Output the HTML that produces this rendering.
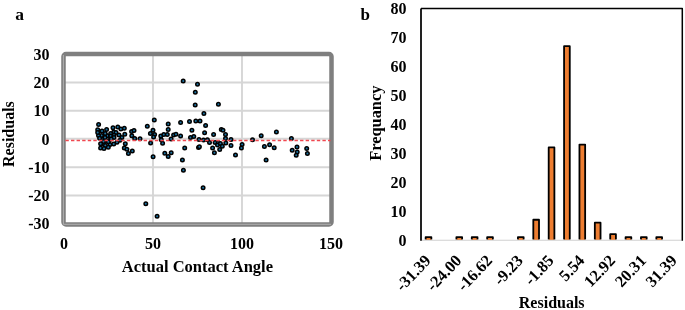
<!DOCTYPE html><html><head><meta charset="utf-8"><style>html,body{margin:0;padding:0;background:#fff;width:685px;height:310px;overflow:hidden}svg{display:block;filter:blur(0.4px)}text{font-family:"Liberation Serif",serif;font-weight:bold;fill:#000}</style></head><body>
<svg width="685" height="310" viewBox="0 0 685 310">
<text x="15.2" y="20.4" font-size="17.5">a</text>
<line x1="153" y1="55" x2="153" y2="223" stroke="#d6d6d6" stroke-width="1.9"/>
<line x1="242" y1="55" x2="242" y2="223" stroke="#d6d6d6" stroke-width="1.9"/>
<line x1="65" y1="82.5" x2="330" y2="82.5" stroke="#d6d6d6" stroke-width="1.9"/>
<line x1="65" y1="110.75" x2="330" y2="110.75" stroke="#d6d6d6" stroke-width="1.9"/>
<line x1="65" y1="138.8" x2="330" y2="138.8" stroke="#d6d6d6" stroke-width="1.9"/>
<line x1="65" y1="167.25" x2="330" y2="167.25" stroke="#d6d6d6" stroke-width="1.9"/>
<line x1="65" y1="195.5" x2="330" y2="195.5" stroke="#d6d6d6" stroke-width="1.9"/>
<rect x="63.5" y="54" width="268" height="170.5" rx="2.5" fill="none" stroke="#7f7f7f" stroke-width="4.5"/>
<line x1="63.4" y1="55" x2="63.4" y2="224.3" stroke="#b0b0b0" stroke-width="1"/>
<line x1="63.4" y1="224.3" x2="331" y2="224.3" stroke="#b0b0b0" stroke-width="1"/>
<circle cx="101.5" cy="135.5" r="1.75" fill="#1a73a2" stroke="#000" stroke-width="1.5"/>
<circle cx="107.3" cy="135.8" r="1.75" fill="#1a73a2" stroke="#000" stroke-width="1.5"/>
<circle cx="102.5" cy="139.5" r="1.75" fill="#1a73a2" stroke="#000" stroke-width="1.5"/>
<circle cx="98.5" cy="135.5" r="1.75" fill="#1a73a2" stroke="#000" stroke-width="1.5"/>
<circle cx="109" cy="140.5" r="1.75" fill="#1a73a2" stroke="#000" stroke-width="1.5"/>
<circle cx="104" cy="144" r="1.75" fill="#1a73a2" stroke="#000" stroke-width="1.5"/>
<circle cx="110" cy="144.5" r="1.75" fill="#1a73a2" stroke="#000" stroke-width="1.5"/>
<circle cx="98.6" cy="124.6" r="1.75" fill="#1a73a2" stroke="#000" stroke-width="1.5"/>
<circle cx="97.7" cy="129.7" r="1.75" fill="#1a73a2" stroke="#000" stroke-width="1.5"/>
<circle cx="97.7" cy="132.4" r="1.75" fill="#1a73a2" stroke="#000" stroke-width="1.5"/>
<circle cx="102" cy="131.1" r="1.75" fill="#1a73a2" stroke="#000" stroke-width="1.5"/>
<circle cx="106.6" cy="129.5" r="1.75" fill="#1a73a2" stroke="#000" stroke-width="1.5"/>
<circle cx="113" cy="127.7" r="1.75" fill="#1a73a2" stroke="#000" stroke-width="1.5"/>
<circle cx="117.8" cy="127" r="1.75" fill="#1a73a2" stroke="#000" stroke-width="1.5"/>
<circle cx="120.9" cy="128.9" r="1.75" fill="#1a73a2" stroke="#000" stroke-width="1.5"/>
<circle cx="124.3" cy="128.2" r="1.75" fill="#1a73a2" stroke="#000" stroke-width="1.5"/>
<circle cx="105.2" cy="133.6" r="1.75" fill="#1a73a2" stroke="#000" stroke-width="1.5"/>
<circle cx="113.7" cy="132.1" r="1.75" fill="#1a73a2" stroke="#000" stroke-width="1.5"/>
<circle cx="110.7" cy="133.6" r="1.75" fill="#1a73a2" stroke="#000" stroke-width="1.5"/>
<circle cx="116" cy="132.6" r="1.75" fill="#1a73a2" stroke="#000" stroke-width="1.5"/>
<circle cx="124.8" cy="134.3" r="1.75" fill="#1a73a2" stroke="#000" stroke-width="1.5"/>
<circle cx="99.6" cy="138.2" r="1.75" fill="#1a73a2" stroke="#000" stroke-width="1.5"/>
<circle cx="105" cy="137.4" r="1.75" fill="#1a73a2" stroke="#000" stroke-width="1.5"/>
<circle cx="110.7" cy="136" r="1.75" fill="#1a73a2" stroke="#000" stroke-width="1.5"/>
<circle cx="114" cy="135.3" r="1.75" fill="#1a73a2" stroke="#000" stroke-width="1.5"/>
<circle cx="114" cy="137.6" r="1.75" fill="#1a73a2" stroke="#000" stroke-width="1.5"/>
<circle cx="119" cy="135" r="1.75" fill="#1a73a2" stroke="#000" stroke-width="1.5"/>
<circle cx="121.9" cy="137.6" r="1.75" fill="#1a73a2" stroke="#000" stroke-width="1.5"/>
<circle cx="111.2" cy="138.9" r="1.75" fill="#1a73a2" stroke="#000" stroke-width="1.5"/>
<circle cx="103.5" cy="141.5" r="1.75" fill="#1a73a2" stroke="#000" stroke-width="1.5"/>
<circle cx="108.3" cy="141.8" r="1.75" fill="#1a73a2" stroke="#000" stroke-width="1.5"/>
<circle cx="117" cy="142.3" r="1.75" fill="#1a73a2" stroke="#000" stroke-width="1.5"/>
<circle cx="120" cy="140.3" r="1.75" fill="#1a73a2" stroke="#000" stroke-width="1.5"/>
<circle cx="100.6" cy="143.7" r="1.75" fill="#1a73a2" stroke="#000" stroke-width="1.5"/>
<circle cx="105.4" cy="145.4" r="1.75" fill="#1a73a2" stroke="#000" stroke-width="1.5"/>
<circle cx="113.7" cy="144" r="1.75" fill="#1a73a2" stroke="#000" stroke-width="1.5"/>
<circle cx="100.6" cy="148" r="1.75" fill="#1a73a2" stroke="#000" stroke-width="1.5"/>
<circle cx="104" cy="148.6" r="1.75" fill="#1a73a2" stroke="#000" stroke-width="1.5"/>
<circle cx="108.3" cy="147.3" r="1.75" fill="#1a73a2" stroke="#000" stroke-width="1.5"/>
<circle cx="125.3" cy="143.7" r="1.75" fill="#1a73a2" stroke="#000" stroke-width="1.5"/>
<circle cx="124.3" cy="148" r="1.75" fill="#1a73a2" stroke="#000" stroke-width="1.5"/>
<circle cx="131.6" cy="131.4" r="1.75" fill="#1a73a2" stroke="#000" stroke-width="1.5"/>
<circle cx="134" cy="130.5" r="1.75" fill="#1a73a2" stroke="#000" stroke-width="1.5"/>
<circle cx="131.8" cy="135.7" r="1.75" fill="#1a73a2" stroke="#000" stroke-width="1.5"/>
<circle cx="134.7" cy="138.4" r="1.75" fill="#1a73a2" stroke="#000" stroke-width="1.5"/>
<circle cx="140" cy="138.8" r="1.75" fill="#1a73a2" stroke="#000" stroke-width="1.5"/>
<circle cx="154.3" cy="120" r="1.75" fill="#1a73a2" stroke="#000" stroke-width="1.5"/>
<circle cx="147.3" cy="126.3" r="1.75" fill="#1a73a2" stroke="#000" stroke-width="1.5"/>
<circle cx="153" cy="130.3" r="1.75" fill="#1a73a2" stroke="#000" stroke-width="1.5"/>
<circle cx="150.4" cy="133.6" r="1.75" fill="#1a73a2" stroke="#000" stroke-width="1.5"/>
<circle cx="154.6" cy="134.4" r="1.75" fill="#1a73a2" stroke="#000" stroke-width="1.5"/>
<circle cx="153.6" cy="137.1" r="1.75" fill="#1a73a2" stroke="#000" stroke-width="1.5"/>
<circle cx="150.6" cy="143.1" r="1.75" fill="#1a73a2" stroke="#000" stroke-width="1.5"/>
<circle cx="160.8" cy="135.9" r="1.75" fill="#1a73a2" stroke="#000" stroke-width="1.5"/>
<circle cx="163.8" cy="134.4" r="1.75" fill="#1a73a2" stroke="#000" stroke-width="1.5"/>
<circle cx="161.3" cy="139.7" r="1.75" fill="#1a73a2" stroke="#000" stroke-width="1.5"/>
<circle cx="162.6" cy="143.2" r="1.75" fill="#1a73a2" stroke="#000" stroke-width="1.5"/>
<circle cx="168.2" cy="124" r="1.75" fill="#1a73a2" stroke="#000" stroke-width="1.5"/>
<circle cx="168.2" cy="129.4" r="1.75" fill="#1a73a2" stroke="#000" stroke-width="1.5"/>
<circle cx="167.3" cy="134.4" r="1.75" fill="#1a73a2" stroke="#000" stroke-width="1.5"/>
<circle cx="173.6" cy="135.1" r="1.75" fill="#1a73a2" stroke="#000" stroke-width="1.5"/>
<circle cx="176" cy="134.2" r="1.75" fill="#1a73a2" stroke="#000" stroke-width="1.5"/>
<circle cx="171.1" cy="139" r="1.75" fill="#1a73a2" stroke="#000" stroke-width="1.5"/>
<circle cx="180.6" cy="122.5" r="1.75" fill="#1a73a2" stroke="#000" stroke-width="1.5"/>
<circle cx="180.6" cy="136" r="1.75" fill="#1a73a2" stroke="#000" stroke-width="1.5"/>
<circle cx="189.5" cy="121.6" r="1.75" fill="#1a73a2" stroke="#000" stroke-width="1.5"/>
<circle cx="195.8" cy="120.9" r="1.75" fill="#1a73a2" stroke="#000" stroke-width="1.5"/>
<circle cx="200" cy="120.9" r="1.75" fill="#1a73a2" stroke="#000" stroke-width="1.5"/>
<circle cx="191.9" cy="130.3" r="1.75" fill="#1a73a2" stroke="#000" stroke-width="1.5"/>
<circle cx="190.5" cy="137.6" r="1.75" fill="#1a73a2" stroke="#000" stroke-width="1.5"/>
<circle cx="193.8" cy="136.4" r="1.75" fill="#1a73a2" stroke="#000" stroke-width="1.5"/>
<circle cx="199" cy="139.5" r="1.75" fill="#1a73a2" stroke="#000" stroke-width="1.5"/>
<circle cx="184.7" cy="147.9" r="1.75" fill="#1a73a2" stroke="#000" stroke-width="1.5"/>
<circle cx="198.5" cy="147.5" r="1.75" fill="#1a73a2" stroke="#000" stroke-width="1.5"/>
<circle cx="164.8" cy="153.2" r="1.75" fill="#1a73a2" stroke="#000" stroke-width="1.5"/>
<circle cx="171.2" cy="152.8" r="1.75" fill="#1a73a2" stroke="#000" stroke-width="1.5"/>
<circle cx="168.2" cy="156.6" r="1.75" fill="#1a73a2" stroke="#000" stroke-width="1.5"/>
<circle cx="182.4" cy="159.9" r="1.75" fill="#1a73a2" stroke="#000" stroke-width="1.5"/>
<circle cx="126.9" cy="149.3" r="1.75" fill="#1a73a2" stroke="#000" stroke-width="1.5"/>
<circle cx="128.4" cy="153.6" r="1.75" fill="#1a73a2" stroke="#000" stroke-width="1.5"/>
<circle cx="132.3" cy="151.1" r="1.75" fill="#1a73a2" stroke="#000" stroke-width="1.5"/>
<circle cx="153.1" cy="156.7" r="1.75" fill="#1a73a2" stroke="#000" stroke-width="1.5"/>
<circle cx="183.2" cy="81.1" r="1.75" fill="#1a73a2" stroke="#000" stroke-width="1.5"/>
<circle cx="197.5" cy="84.3" r="1.75" fill="#1a73a2" stroke="#000" stroke-width="1.5"/>
<circle cx="195.3" cy="92.3" r="1.75" fill="#1a73a2" stroke="#000" stroke-width="1.5"/>
<circle cx="195.2" cy="104.9" r="1.75" fill="#1a73a2" stroke="#000" stroke-width="1.5"/>
<circle cx="203.9" cy="113.6" r="1.75" fill="#1a73a2" stroke="#000" stroke-width="1.5"/>
<circle cx="218.4" cy="104.2" r="1.75" fill="#1a73a2" stroke="#000" stroke-width="1.5"/>
<circle cx="205.6" cy="125.5" r="1.75" fill="#1a73a2" stroke="#000" stroke-width="1.5"/>
<circle cx="204.6" cy="132.8" r="1.75" fill="#1a73a2" stroke="#000" stroke-width="1.5"/>
<circle cx="213.6" cy="134.4" r="1.75" fill="#1a73a2" stroke="#000" stroke-width="1.5"/>
<circle cx="221.3" cy="129.4" r="1.75" fill="#1a73a2" stroke="#000" stroke-width="1.5"/>
<circle cx="223" cy="130.3" r="1.75" fill="#1a73a2" stroke="#000" stroke-width="1.5"/>
<circle cx="225.5" cy="134.4" r="1.75" fill="#1a73a2" stroke="#000" stroke-width="1.5"/>
<circle cx="225.5" cy="138.4" r="1.75" fill="#1a73a2" stroke="#000" stroke-width="1.5"/>
<circle cx="231" cy="139.5" r="1.75" fill="#1a73a2" stroke="#000" stroke-width="1.5"/>
<circle cx="203.5" cy="139.9" r="1.75" fill="#1a73a2" stroke="#000" stroke-width="1.5"/>
<circle cx="207.4" cy="139.7" r="1.75" fill="#1a73a2" stroke="#000" stroke-width="1.5"/>
<circle cx="209.5" cy="142.4" r="1.75" fill="#1a73a2" stroke="#000" stroke-width="1.5"/>
<circle cx="215.1" cy="142.4" r="1.75" fill="#1a73a2" stroke="#000" stroke-width="1.5"/>
<circle cx="218.2" cy="142.4" r="1.75" fill="#1a73a2" stroke="#000" stroke-width="1.5"/>
<circle cx="217.5" cy="145" r="1.75" fill="#1a73a2" stroke="#000" stroke-width="1.5"/>
<circle cx="220.4" cy="143.6" r="1.75" fill="#1a73a2" stroke="#000" stroke-width="1.5"/>
<circle cx="222.3" cy="146.3" r="1.75" fill="#1a73a2" stroke="#000" stroke-width="1.5"/>
<circle cx="225.8" cy="143.1" r="1.75" fill="#1a73a2" stroke="#000" stroke-width="1.5"/>
<circle cx="231" cy="145.5" r="1.75" fill="#1a73a2" stroke="#000" stroke-width="1.5"/>
<circle cx="212.6" cy="147.9" r="1.75" fill="#1a73a2" stroke="#000" stroke-width="1.5"/>
<circle cx="219.7" cy="149.6" r="1.75" fill="#1a73a2" stroke="#000" stroke-width="1.5"/>
<circle cx="214.4" cy="152.7" r="1.75" fill="#1a73a2" stroke="#000" stroke-width="1.5"/>
<circle cx="235.5" cy="155.1" r="1.75" fill="#1a73a2" stroke="#000" stroke-width="1.5"/>
<circle cx="242.1" cy="144.6" r="1.75" fill="#1a73a2" stroke="#000" stroke-width="1.5"/>
<circle cx="241.4" cy="148.1" r="1.75" fill="#1a73a2" stroke="#000" stroke-width="1.5"/>
<circle cx="252.5" cy="139.8" r="1.75" fill="#1a73a2" stroke="#000" stroke-width="1.5"/>
<circle cx="261.2" cy="135.8" r="1.75" fill="#1a73a2" stroke="#000" stroke-width="1.5"/>
<circle cx="264.4" cy="146.5" r="1.75" fill="#1a73a2" stroke="#000" stroke-width="1.5"/>
<circle cx="269.6" cy="144.8" r="1.75" fill="#1a73a2" stroke="#000" stroke-width="1.5"/>
<circle cx="266.1" cy="159.9" r="1.75" fill="#1a73a2" stroke="#000" stroke-width="1.5"/>
<circle cx="276.4" cy="132" r="1.75" fill="#1a73a2" stroke="#000" stroke-width="1.5"/>
<circle cx="291.4" cy="138.4" r="1.75" fill="#1a73a2" stroke="#000" stroke-width="1.5"/>
<circle cx="274.2" cy="147.8" r="1.75" fill="#1a73a2" stroke="#000" stroke-width="1.5"/>
<circle cx="292.2" cy="150.3" r="1.75" fill="#1a73a2" stroke="#000" stroke-width="1.5"/>
<circle cx="297" cy="147.1" r="1.75" fill="#1a73a2" stroke="#000" stroke-width="1.5"/>
<circle cx="297.2" cy="152" r="1.75" fill="#1a73a2" stroke="#000" stroke-width="1.5"/>
<circle cx="296.2" cy="155.2" r="1.75" fill="#1a73a2" stroke="#000" stroke-width="1.5"/>
<circle cx="306.7" cy="148.6" r="1.75" fill="#1a73a2" stroke="#000" stroke-width="1.5"/>
<circle cx="307.4" cy="153.5" r="1.75" fill="#1a73a2" stroke="#000" stroke-width="1.5"/>
<circle cx="145.8" cy="203.7" r="1.75" fill="#1a73a2" stroke="#000" stroke-width="1.5"/>
<circle cx="157.1" cy="216.3" r="1.75" fill="#1a73a2" stroke="#000" stroke-width="1.5"/>
<circle cx="183.4" cy="170.3" r="1.75" fill="#1a73a2" stroke="#000" stroke-width="1.5"/>
<circle cx="203.1" cy="187.7" r="1.75" fill="#1a73a2" stroke="#000" stroke-width="1.5"/>
<circle cx="199.4" cy="146.8" r="1.75" fill="#1a73a2" stroke="#000" stroke-width="1.5"/>
<line x1="65.41" y1="140.5" x2="330.5" y2="140.5" stroke="#f04850" stroke-width="1.35" stroke-dasharray="3.4 2.187"/>
<text x="49.5" y="59.75" font-size="16" text-anchor="end">30</text>
<text x="49.5" y="88.00" font-size="16" text-anchor="end">20</text>
<text x="49.5" y="116.25" font-size="16" text-anchor="end">10</text>
<text x="49.5" y="144.50" font-size="16" text-anchor="end">0</text>
<text x="49.5" y="172.75" font-size="16" text-anchor="end">-10</text>
<text x="49.5" y="201.00" font-size="16" text-anchor="end">-20</text>
<text x="49.5" y="229.25" font-size="16" text-anchor="end">-30</text>
<text x="64" y="249" font-size="16" text-anchor="middle">0</text>
<text x="153" y="249" font-size="16" text-anchor="middle">50</text>
<text x="242" y="249" font-size="16" text-anchor="middle">100</text>
<text x="331" y="249" font-size="16" text-anchor="middle">150</text>
<text x="197.4" y="272" font-size="16.5" text-anchor="middle">Actual Contact Angle</text>
<text transform="translate(14.1,134.1) rotate(-90)" font-size="16" text-anchor="middle">Residuals</text>
<text x="360.6" y="20.4" font-size="17">b</text>
<rect x="425.65" y="237.11" width="5.7" height="2.89" fill="#ed7d31"/>
<path d="M425.65 239.6 V237.11 H431.35 V239.6" fill="none" stroke="#000" stroke-width="1.8" stroke-linejoin="round"/>
<rect x="456.41" y="237.11" width="5.7" height="2.89" fill="#ed7d31"/>
<path d="M456.41 239.6 V237.11 H462.11 V239.6" fill="none" stroke="#000" stroke-width="1.8" stroke-linejoin="round"/>
<rect x="471.79" y="237.11" width="5.7" height="2.89" fill="#ed7d31"/>
<path d="M471.79 239.6 V237.11 H477.49 V239.6" fill="none" stroke="#000" stroke-width="1.8" stroke-linejoin="round"/>
<rect x="487.17" y="237.11" width="5.7" height="2.89" fill="#ed7d31"/>
<path d="M487.17 239.6 V237.11 H492.87 V239.6" fill="none" stroke="#000" stroke-width="1.8" stroke-linejoin="round"/>
<rect x="517.93" y="237.11" width="5.7" height="2.89" fill="#ed7d31"/>
<path d="M517.93 239.6 V237.11 H523.63 V239.6" fill="none" stroke="#000" stroke-width="1.8" stroke-linejoin="round"/>
<rect x="533.31" y="219.75" width="5.7" height="20.25" fill="#ed7d31"/>
<path d="M533.31 239.6 V219.75 H539.01 V239.6" fill="none" stroke="#000" stroke-width="1.8" stroke-linejoin="round"/>
<rect x="548.69" y="147.42" width="5.7" height="92.58" fill="#ed7d31"/>
<path d="M548.69 239.6 V147.42 H554.39 V239.6" fill="none" stroke="#000" stroke-width="1.8" stroke-linejoin="round"/>
<rect x="564.07" y="46.17" width="5.7" height="193.83" fill="#ed7d31"/>
<path d="M564.07 239.6 V46.17 H569.77 V239.6" fill="none" stroke="#000" stroke-width="1.8" stroke-linejoin="round"/>
<rect x="579.45" y="144.53" width="5.7" height="95.47" fill="#ed7d31"/>
<path d="M579.45 239.6 V144.53 H585.15 V239.6" fill="none" stroke="#000" stroke-width="1.8" stroke-linejoin="round"/>
<rect x="594.83" y="222.64" width="5.7" height="17.36" fill="#ed7d31"/>
<path d="M594.83 239.6 V222.64 H600.53 V239.6" fill="none" stroke="#000" stroke-width="1.8" stroke-linejoin="round"/>
<rect x="610.21" y="234.21" width="5.7" height="5.79" fill="#ed7d31"/>
<path d="M610.21 239.6 V234.21 H615.91 V239.6" fill="none" stroke="#000" stroke-width="1.8" stroke-linejoin="round"/>
<rect x="625.59" y="237.11" width="5.7" height="2.89" fill="#ed7d31"/>
<path d="M625.59 239.6 V237.11 H631.29 V239.6" fill="none" stroke="#000" stroke-width="1.8" stroke-linejoin="round"/>
<rect x="640.97" y="237.11" width="5.7" height="2.89" fill="#ed7d31"/>
<path d="M640.97 239.6 V237.11 H646.67 V239.6" fill="none" stroke="#000" stroke-width="1.8" stroke-linejoin="round"/>
<rect x="656.35" y="237.11" width="5.7" height="2.89" fill="#ed7d31"/>
<path d="M656.35 239.6 V237.11 H662.05 V239.6" fill="none" stroke="#000" stroke-width="1.8" stroke-linejoin="round"/>
<line x1="422" y1="240.2" x2="681.5" y2="240.2" stroke="#d0d0d0" stroke-width="1.1"/>
<path d="M421 240.7 V8.6" fill="none" stroke="#222" stroke-width="2"/>
<path d="M421 8.5 H682.3 V240.8" fill="none" stroke="#000" stroke-width="1.5" stroke-linejoin="round"/>
<text x="406.5" y="245.50" font-size="16" text-anchor="end">0</text>
<text x="406.5" y="216.56" font-size="16" text-anchor="end">10</text>
<text x="406.5" y="187.62" font-size="16" text-anchor="end">20</text>
<text x="406.5" y="158.68" font-size="16" text-anchor="end">30</text>
<text x="406.5" y="129.74" font-size="16" text-anchor="end">40</text>
<text x="406.5" y="100.80" font-size="16" text-anchor="end">50</text>
<text x="406.5" y="71.86" font-size="16" text-anchor="end">60</text>
<text x="406.5" y="42.92" font-size="16" text-anchor="end">70</text>
<text x="406.5" y="13.98" font-size="16" text-anchor="end">80</text>
<text transform="translate(423.00,253.1) rotate(-46.5)" font-size="16.4" text-anchor="end" dominant-baseline="hanging">-31.39</text>
<text transform="translate(453.76,253.1) rotate(-46.5)" font-size="16.4" text-anchor="end" dominant-baseline="hanging">-24.00</text>
<text transform="translate(484.52,253.1) rotate(-46.5)" font-size="16.4" text-anchor="end" dominant-baseline="hanging">-16.62</text>
<text transform="translate(515.28,253.1) rotate(-46.5)" font-size="16.4" text-anchor="end" dominant-baseline="hanging">-9.23</text>
<text transform="translate(546.04,253.1) rotate(-46.5)" font-size="16.4" text-anchor="end" dominant-baseline="hanging">-1.85</text>
<text transform="translate(576.80,253.1) rotate(-46.5)" font-size="16.4" text-anchor="end" dominant-baseline="hanging">5.54</text>
<text transform="translate(607.56,253.1) rotate(-46.5)" font-size="16.4" text-anchor="end" dominant-baseline="hanging">12.92</text>
<text transform="translate(638.32,253.1) rotate(-46.5)" font-size="16.4" text-anchor="end" dominant-baseline="hanging">20.31</text>
<text transform="translate(669.08,253.1) rotate(-46.5)" font-size="16.4" text-anchor="end" dominant-baseline="hanging">31.39</text>
<text transform="translate(380.6,123.2) rotate(-90)" font-size="16.4" text-anchor="middle">Frequancy</text>
<text x="551.7" y="307.7" font-size="16" text-anchor="middle">Residuals</text>
</svg></body></html>
